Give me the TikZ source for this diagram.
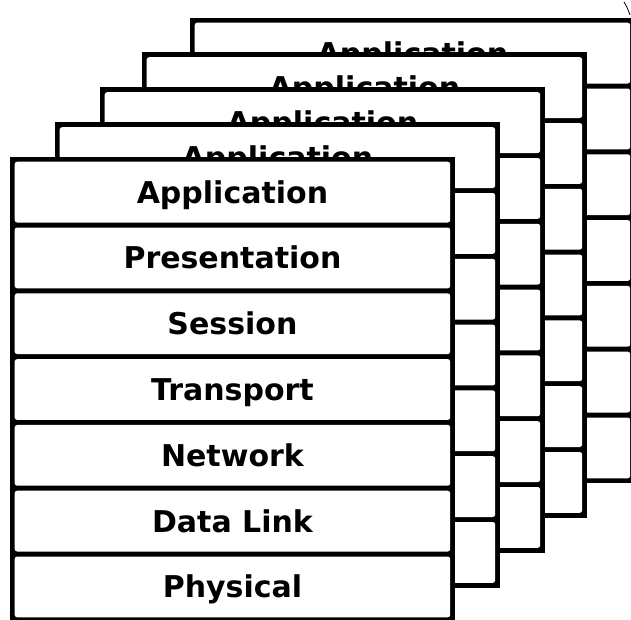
\documentclass[tikz,border=0pt]{standalone}
\usepackage{fontspec}
\setmainfont{DejaVu Sans}
\begin{document}
\begin{tikzpicture}[x=1pt,y=-1pt,
  cell/.style={draw=none, fill=white, rounded corners=2.5pt, anchor=north west,
    minimum width=435.5pt, minimum height=60.8pt, inner sep=0pt,
    text height=22pt, text depth=0pt,
    font=\fontsize{30}{30}\selectfont\bfseries},
  frame/.style={fill=black}]
\useasboundingbox (0,0) rectangle (631,619);
\clip (0,0) rectangle (631,619);
% back stacks (only their top label is visible)
\foreach \s/\L/\T in {4/192/20,3/144/54.5,2/102/89.5,1/57/124.5}{
  \fill[frame] (\L-2.5,\T-2.5) rectangle (\L+443,\T+463.1);
  \foreach \r in {0,...,6}{
    \node[cell] (c\s\r) at (\L+2.5,\T+\r*65.8+2.5) {\ifnum\r=0 Application\fi};
  }
}
% front stack
\fill[frame] (12-2.5,159-2.5) rectangle (12+443,159+463.1);
\foreach \r/\t in {0/Application,1/Presentation,2/Session,3/Transport,4/Network,5/Data Link,6/Physical}{
  \node[cell] (c0\r) at (12+2.5,159+\r*65.8+2.5) {\t};
}
% stray mark at the top right corner
\draw[line width=0.8pt] (624,2) .. controls (627,7) .. (630,15);
\end{tikzpicture}
\end{document}
